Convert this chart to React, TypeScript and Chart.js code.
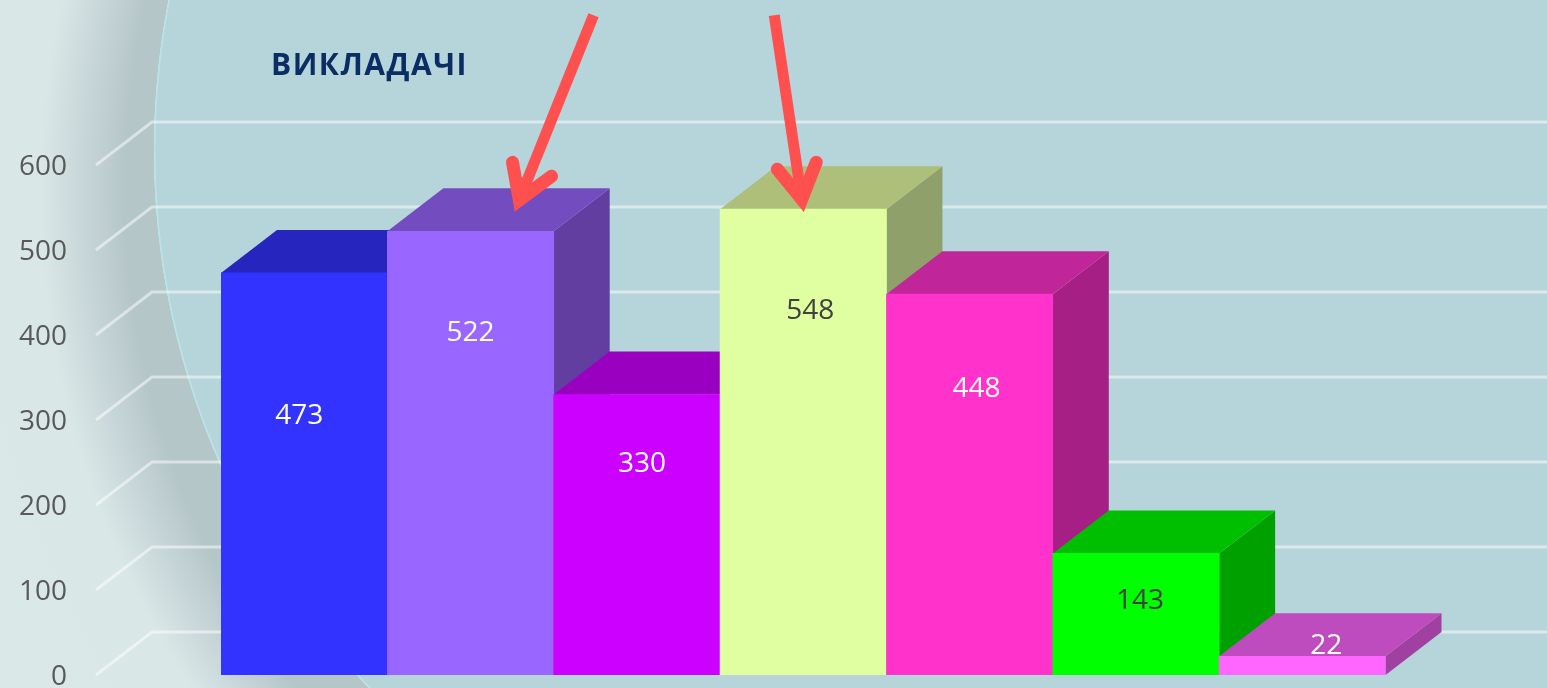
import React, { useEffect, useRef } from "react";
import { Chart, registerables } from "chart.js";

Chart.register(...registerables);

const categories = ["Категорія 1", "Категорія 2", "Категорія 3", "Категорія 4", "Категорія 5", "Категорія 6", "Категорія 7"];
const teachers = [473, 522, 330, 548, 448, 143, 22];
const frontColors = ["#3333ff", "#9966ff", "#cc00ff", "#e0ffa0", "#ff33cc", "#00ff00", "#ff66ff"];
const topColors = ["#2626bf", "#734cbf", "#9900bf", "#aebf7a", "#c0269a", "#00bf00", "#bf4cbf"];
const sideColors = ["#1f1f9f", "#623ea0", "#8000a0", "#8fa06a", "#a51f85", "#00a000", "#a040a0"];
const labelColors = ["#ffffff", "#ffffff", "#ffffff", "#404040", "#ffffff", "#404040", "#ffffff"];
const labelNudgeX = [-5, 0, 5, 7, 7, 4, 24];
const labelNudgeY = [143, 102, 70, 102, 95, 48, -10];
const titleText = "ВИКЛАДАЧІ";

const DEPTH_X = 56;
const DEPTH_Y = 43;
const FONT = '"Open Sans", "Noto Sans", sans-serif';

const poly = (ctx: CanvasRenderingContext2D, pts: number[][], fill: string) => {
  ctx.beginPath();
  pts.forEach((p, i) => (i ? ctx.lineTo(p[0], p[1]) : ctx.moveTo(p[0], p[1])));
  ctx.closePath();
  ctx.fillStyle = fill;
  ctx.fill();
};

const wallsAndDepth = {
  id: "wallsAndDepth",
  beforeDatasetsDraw(chart: any) {
    const { ctx, scales, chartArea, width } = chart;
    const y = scales.y;
    ctx.save();
    ctx.strokeStyle = "rgba(255,255,255,0.5)";
    ctx.lineWidth = 3;
    y.ticks.forEach((t: any) => {
      const py = y.getPixelForValue(t.value);
      const x0 = chartArea.left - 125;
      ctx.beginPath();
      ctx.moveTo(x0, py);
      ctx.lineTo(x0 + DEPTH_X, py - DEPTH_Y);
      ctx.lineTo(width, py - DEPTH_Y);
      ctx.stroke();
    });
    const bars = chart.getDatasetMeta(0).data;
    bars.forEach((b: any, i: number) => {
      const l = b.x - b.width / 2;
      const r = b.x + b.width / 2;
      const t = b.y;
      const base = b.base;
      poly(ctx, [[r, t], [r + DEPTH_X, t - DEPTH_Y], [r + DEPTH_X, base - DEPTH_Y], [r, base]], sideColors[i]);
      poly(ctx, [[l, t], [l + DEPTH_X, t - DEPTH_Y], [r + DEPTH_X, t - DEPTH_Y], [r, t]], topColors[i]);
    });
    ctx.restore();
  },
};

const arrow = (ctx: CanvasRenderingContext2D, tail: number[], tip: number[], barbA: number[], barbB: number[]) => {
  const red = "#ff5050";
  const dx = tail[0] - tip[0];
  const dy = tail[1] - tip[1];
  const len = Math.hypot(dx, dy);
  const inner = [tip[0] + (dx / len) * 10, tip[1] + (dy / len) * 10];
  ctx.strokeStyle = red;
  ctx.fillStyle = red;
  ctx.lineWidth = 11;
  ctx.lineCap = "butt";
  ctx.beginPath();
  ctx.moveTo(tail[0], tail[1]);
  ctx.lineTo(inner[0], inner[1]);
  ctx.stroke();
  const along = (b: number[], f: number) => [inner[0] + (b[0] - inner[0]) * f, inner[1] + (b[1] - inner[1]) * f];
  poly(ctx, [inner, along(barbA, 0.6), along(barbB, 0.6)], red);
  ctx.strokeStyle = red;
  ctx.lineWidth = 13;
  ctx.lineCap = "round";
  ctx.lineJoin = "miter";
  ctx.miterLimit = 10;
  ctx.beginPath();
  ctx.moveTo(barbA[0], barbA[1]);
  ctx.lineTo(inner[0], inner[1]);
  ctx.lineTo(barbB[0], barbB[1]);
  ctx.stroke();
};

const labelsAndNotes = {
  id: "labelsAndNotes",
  afterDatasetsDraw(chart: any) {
    const { ctx } = chart;
    const bars = chart.getDatasetMeta(0).data;
    ctx.save();
    ctx.font = `28px ${FONT}`;
    ctx.textAlign = "center";
    ctx.textBaseline = "middle";
    bars.forEach((b: any, i: number) => {
      ctx.fillStyle = labelColors[i];
      ctx.fillText(String(teachers[i]), b.x + labelNudgeX[i], b.y + labelNudgeY[i]);
    });
    ctx.font = `bold 30px ${FONT}`;
    (ctx as any).letterSpacing = "1.5px";
    ctx.textAlign = "left";
    ctx.fillStyle = "#0c2d63";
    ctx.fillText(titleText, chart.chartArea.left + 50, 66);
    (ctx as any).letterSpacing = "0px";

    const b2 = bars[1];
    const tipA = [b2.x + 45, b2.y - 22];
    arrow(ctx, [tipA[0] + 78, tipA[1] - 194], tipA, [tipA[0] - 3, tipA[1] - 47], [tipA[0] + 36, tipA[1] - 33]);
    const b4 = bars[3];
    const tipB = [b4.x, b4.y];
    arrow(ctx, [tipB[0] - 29, tipB[1] - 194], tipB, [tipB[0] - 26, tipB[1] - 40], [tipB[0] + 13, tipB[1] - 47]);
    ctx.restore();
  },
};

export default function App() {
  const ref = useRef<HTMLCanvasElement>(null);
  useEffect(() => {
    const chart = new Chart(ref.current as HTMLCanvasElement, {
      type: "bar",
      data: {
        labels: categories,
        datasets: [
          {
            label: titleText,
            data: teachers,
            backgroundColor: frontColors,
            borderWidth: 0,
            barPercentage: 1,
            categoryPercentage: 1,
          },
        ],
      },
      options: {
        animation: false,
        responsive: false,
        layout: { padding: { top: 165, bottom: 13, left: 0, right: 161.5 } },
        plugins: { legend: { display: false }, title: { display: false }, tooltip: { enabled: false } },
        scales: {
          x: { display: false },
          y: {
            min: 0,
            max: 600,
            afterFit(scale: any) {
              scale.width = 221;
              scale.paddingTop = 0;
              scale.paddingBottom = 0;
            },
            grid: { display: false },
            border: { display: false },
            ticks: {
              stepSize: 100,
              padding: 146,
              labelOffset: 2,
              color: "#595959",
              font: { family: FONT, size: 28 },
            },
          },
        },
      },
      plugins: [wallsAndDepth, labelsAndNotes],
    } as any);
    return () => chart.destroy();
  }, []);

  const teal = "#b5d5da";
  return (
    <div
      style={{
        position: "absolute",
        left: 0,
        top: 0,
        width: 1547,
        height: 688,
        overflow: "hidden",
        background: [
          `linear-gradient(90deg, transparent 935px, ${teal} 935px)`,
          `radial-gradient(circle 782px at 935px 150px, ${teal} 0, ${teal} 779px, #b9e4e6 780px, #b9e4e6 781px, transparent 781.5px)`,
          "radial-gradient(circle 1100px at 935px 190px, #b5c6c9 0, #b5c6c9 810px, #c6d5d8 850px, #dae7e7 895px, #dbe8e8 1100px)",
        ].join(", "),
      }}
    >
      <canvas ref={ref} width={1547} height={688} style={{ display: "block" }} />
    </div>
  );
}
